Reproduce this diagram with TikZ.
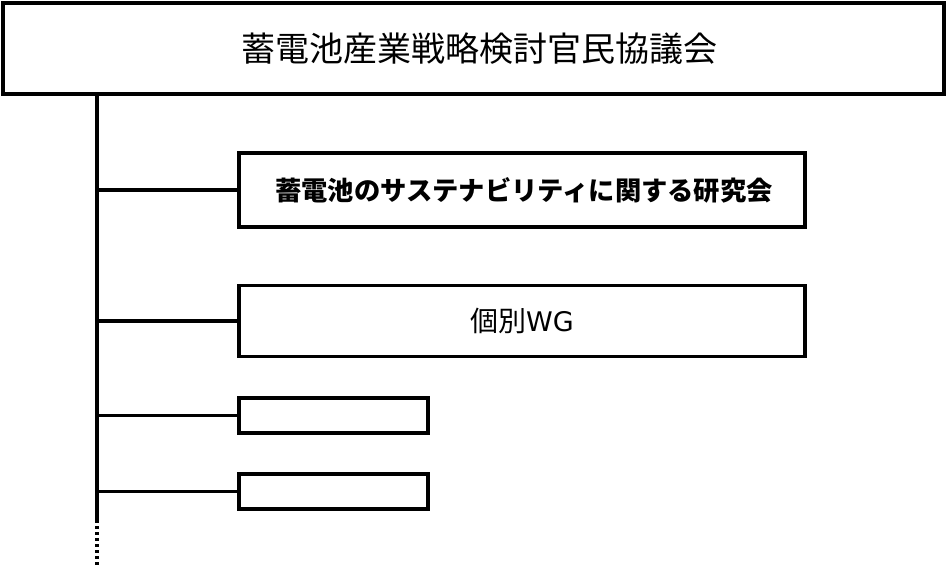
\documentclass[tikz,border=0pt]{standalone}
\usepackage{fontspec}
\newfontfamily\cjk{Noto Sans CJK JP}
\newfontfamily\latn{DejaVu Sans}
\begin{document}
\begin{tikzpicture}[x=1pt,y=1pt,
  orgbox/.style={draw=black, line width=3.5pt, fill=white, inner sep=0pt, anchor=center},
  link/.style={line width=3.5pt, black}]
\useasboundingbox (0,0) rectangle (947,-566);
\node[orgbox, line width=4pt, minimum width=941pt, minimum height=91pt] (top) at (473.5,-48.5)
  {\cjk\fontsize{34}{38}\selectfont\hspace*{11pt}蓄電池産業戦略検討官民協議会};
\node[orgbox, minimum width=566pt, minimum height=74pt] (b1) at (522,-190)
  {\cjk\fontsize{26.3}{30}\selectfont\bfseries\hspace*{4pt}蓄電池のサステナビリティに関する研究会};
\node[orgbox, minimum width=566pt, minimum height=71pt] (b2) at (522,-321)
  {\cjk\fontsize{28}{32}\selectfont 個別{\latn\fontsize{27}{32}\selectfont WG}};
\node[orgbox, minimum width=189pt, minimum height=35pt] (b3) at (333.5,-415.5) {};
\node[orgbox, minimum width=189pt, minimum height=35pt] (b4) at (333.5,-491.5) {};
\coordinate (tstart) at (97,-96);
\coordinate (t1) at (97,-190);
\coordinate (t2) at (97,-321);
\coordinate (t3) at (97,-415.5);
\coordinate (t4) at (97,-491.5);
\coordinate (tend) at (97,-520);
\coordinate (tdot) at (97,-566);
\draw[link] (tstart) -- (tend);
\draw[line width=3.5pt, dash pattern=on 3pt off 3pt] (tend) -- (tdot);
\draw[link] (t1) -- (b1.west);
\draw[link] (t2) -- (b2.west);
\draw[link] (t3) -- (b3.west);
\draw[link] (t4) -- (b4.west);
\end{tikzpicture}
\end{document}
